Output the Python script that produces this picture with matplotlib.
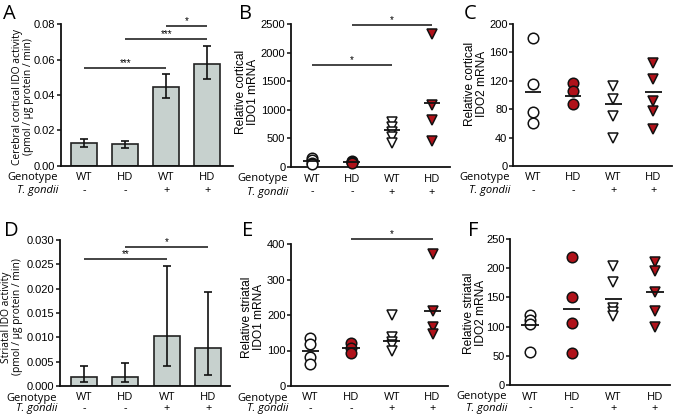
import matplotlib
matplotlib.use("Agg")
import matplotlib.pyplot as plt
import numpy as np

# ---------------- data ----------------
genotype = ["WT", "HD", "WT", "HD"]
tgondii = ["-", "-", "+", "+"]

# Panel A: cerebral cortical IDO activity (bars + error limits)
a_mean = [0.0132, 0.0122, 0.0446, 0.0577]
a_lo = [0.0108, 0.0100, 0.0384, 0.0488]
a_hi = [0.0154, 0.0142, 0.0517, 0.0676]

# Panel D: striatal IDO activity
d_mean = [0.0018, 0.0019, 0.0102, 0.0078]
d_lo = [0.0009, 0.0009, 0.0042, 0.0023]
d_hi = [0.0042, 0.0047, 0.0247, 0.0193]

# Panel B: relative cortical IDO1 mRNA
b_pts = [[150, 115, 75, 45], [110, 95, 85, 75],
         [790, 700, 610, 520, 420], [2330, 1080, 815, 450]]
b_means = [100, 88, 650, 1115]

# Panel C: relative cortical IDO2 mRNA
c_pts = [[180, 116, 76, 61], [117, 106, 87],
         [113, 94, 70, 40], [145, 122, 92, 78, 52]]
c_means = [104, 98, 87, 104]

# Panel E: relative striatal IDO1 mRNA
e_pts = [[134, 117, 81, 62], [121, 108, 94],
         [200, 137, 125, 115, 100], [372, 211, 167, 146]]
e_means = [100, 106, 128, 211]

# Panel F: relative striatal IDO2 mRNA
f_pts = [[120, 111, 104, 57], [219, 151, 107, 55],
         [204, 177, 131, 125, 119], [210, 195, 160, 127, 99]]
f_means = [102, 130, 147, 160]

# significance brackets: (x0, x1, y, label)
a_sig = [(0, 2, 0.0554, "***"), (1, 3, 0.0716, "***"), (2, 3, 0.0790, "*")]
b_sig = [(0, 2, 1785, "*"), (1, 3, 2483, "*")]
d_sig = [(0, 2, 0.0260, "**"), (1, 3, 0.0286, "*")]
e_sig = [(1, 3, 413, "*")]

# ---------------- style ----------------
W, H = 674, 418
RED = "#B0121A"
BARC = "#C7D1CE"
TICKF = "Liberation Sans"
TEXTF = "Open Sans"

fig = plt.figure(figsize=(W / 100, H / 100), dpi=100)


def make_ax(l, r, top, bottom, xlim, ylim, yticks, fmt):
    ax = fig.add_axes([l / W, 1 - bottom / H, (r - l) / W, (bottom - top) / H])
    ax.set_xlim(*xlim)
    ax.set_ylim(*ylim)
    for s in ("top", "right"):
        ax.spines[s].set_visible(False)
    for s in ("left", "bottom"):
        ax.spines[s].set_linewidth(1.3)
        ax.spines[s].set_color("#111111")
    ax.set_xticks([])
    ax.set_yticks(yticks)
    ax.set_yticklabels([fmt.format(v) for v in yticks], fontfamily=TICKF, fontsize=8)
    ax.tick_params(axis="y", length=3, width=1.1, pad=1, color="#111111")
    ax.patch.set_alpha(0)
    return ax


def cat_labels(ax, dy2):
    tr = ax.get_xaxis_transform()
    for i in range(4):
        ax.annotate(genotype[i], xy=(i, 0), xycoords=tr, xytext=(0, -12),
                    textcoords="offset pixels", ha="center", va="center",
                    fontfamily=TEXTF, fontsize=8)
        ax.annotate(tgondii[i], xy=(i, 0), xycoords=tr, xytext=(0, dy2),
                    textcoords="offset pixels", ha="center", va="center",
                    fontfamily=TEXTF, fontsize=7.8)
    x0 = ax.get_xlim()[0]
    ax.annotate("Genotype", xy=(x0, 0), xycoords=tr, xytext=(-3, -12),
                textcoords="offset pixels", ha="right", va="center",
                fontfamily=TEXTF, fontsize=8)
    ax.annotate("T. gondii", xy=(x0, 0), xycoords=tr, xytext=(-3, dy2),
                textcoords="offset pixels", ha="right", va="center",
                fontfamily=TEXTF, fontsize=8, style="italic")


def sig(ax, items):
    for x0, x1, y, lab in items:
        ax.plot([x0, x1], [y, y], color="#111111", lw=1.1, clip_on=False,
                solid_capstyle="butt")
        ax.text((x0 + x1) / 2, y, lab, ha="center", va="bottom",
                fontfamily=TICKF, fontsize=7, clip_on=False)


def bars(ax, mean, lo, hi):
    x = np.arange(4)
    m = np.array(mean)
    yerr = [m - np.array(lo), np.array(hi) - m]
    ax.bar(x, m, width=0.63, color=BARC, edgecolor="#222222", linewidth=1.2, zorder=2)
    ax.errorbar(x, m, yerr=yerr, fmt="none", ecolor="#111111", elinewidth=1.2,
                capsize=3.2, capthick=1.2, zorder=3)


def dots(ax, pts, means):
    styles = [("o", "white"), ("o", RED), ("v", "white"), ("v", RED)]
    for i, (vals, (mk, fc)) in enumerate(zip(pts, styles)):
        ax.plot([i] * len(vals), vals, linestyle="none", marker=mk, ms=7.6,
                mfc=fc, mec="#111111", mew=1.1, zorder=3, clip_on=False)
        ax.plot([i - 0.21, i + 0.21], [means[i], means[i]], color="#111111",
                lw=1.3, zorder=4, solid_capstyle="butt")


# Panel A
axA = make_ax(61, 233, 24, 166, (-0.57, 3.63), (0, 0.08),
              [0, 0.02, 0.04, 0.06, 0.08], "{:.2f}")
bars(axA, a_mean, a_lo, a_hi)
sig(axA, a_sig)
cat_labels(axA, -25)

# Panel B
axB = make_ax(291, 450, 24, 167, (-0.52, 3.45), (0, 2500),
              [0, 500, 1000, 1500, 2000, 2500], "{:.0f}")
dots(axB, b_pts, b_means)
sig(axB, b_sig)
cat_labels(axB, -25)

# Panel C
axC = make_ax(513, 672, 24, 166, (-0.5, 3.47), (0, 200),
              [0, 40, 80, 120, 160, 200], "{:.0f}")
dots(axC, c_pts, c_means)
cat_labels(axC, -25)

# Panel D
axD = make_ax(60, 230, 240, 386, (-0.58, 3.53), (0, 0.030),
              [0, 0.005, 0.010, 0.015, 0.020, 0.025, 0.030], "{:.3f}")
bars(axD, d_mean, d_lo, d_hi)
sig(axD, d_sig)
cat_labels(axD, -23)

# Panel E
axE = make_ax(291, 448, 244, 386, (-0.47, 3.38), (0, 400),
              [0, 100, 200, 300, 400], "{:.0f}")
dots(axE, e_pts, e_means)
sig(axE, e_sig)
cat_labels(axE, -23)

# Panel F
axF = make_ax(510, 670, 239, 385, (-0.48, 3.36), (0, 250),
              [0, 50, 100, 150, 200, 250], "{:.0f}")
dots(axF, f_pts, f_means)
cat_labels(axF, -23)

# y labels (placed in figure pixel coordinates)
def ylab(x, y, s, fam, fs=7.5):
    fig.text(x / W, 1 - y / H, s, rotation=90, ha="center", va="center",
             fontfamily=fam, fontsize=fs, linespacing=1.05)

ylab(23, 97, "Cerebral cortical IDO activity\n(pmol / µg protein / min)", TEXTF, 7.4)
ylab(247, 92, "Relative cortical\nIDO1 mRNA", TICKF, 8.6)
ylab(476, 84, "Relative cortical\nIDO2 mRNA", TICKF, 8.6)
ylab(12, 317, "Striatal IDO activity\n(pmol / µg protein / min)", TEXTF, 7.4)
ylab(253, 317, "Relative striatal\nIDO1 mRNA", TICKF, 8.6)
ylab(475, 313, "Relative striatal\nIDO2 mRNA", TICKF, 8.6)

# panel letters
for lab, x, y in [("A", 3, 4), ("B", 239, 4), ("C", 464, 4),
                  ("D", 4, 221), ("E", 242, 221), ("F", 468, 221)]:
    fig.text(x / W, 1 - y / H, lab, ha="left", va="top", fontfamily=TEXTF,
             fontsize=14.5)

fig.savefig("out.png", dpi=100)
